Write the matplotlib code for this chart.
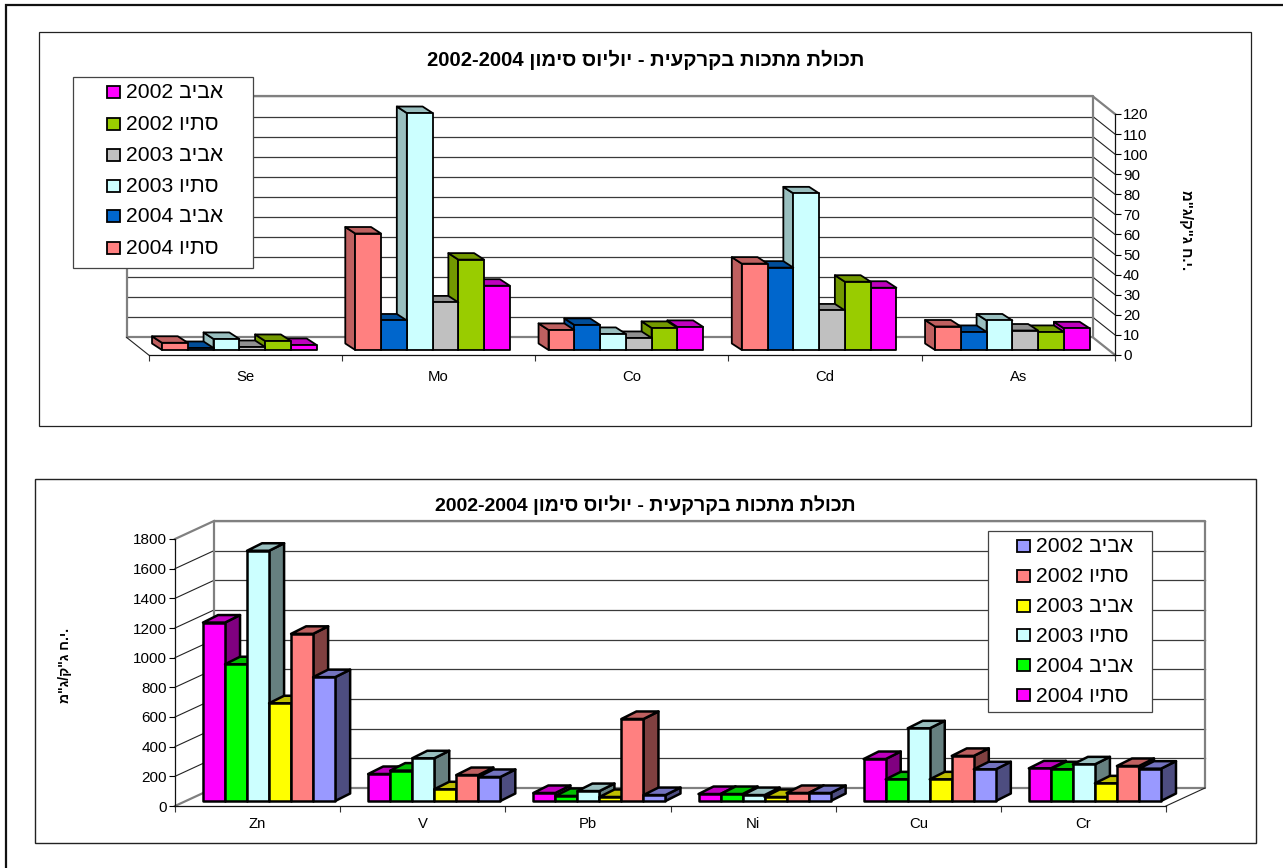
import re
import matplotlib
matplotlib.use("Agg")
import matplotlib.pyplot as plt
from matplotlib.patches import Polygon, Rectangle

plt.rcParams["font.family"] = ["Liberation Sans", "DejaVu Sans"]

W, H = 1283, 868

# ---- shared text ----
chart_title = "תכולת מתכות בקרקעית - יוליוס סימון 2002-2004"
unit_label = 'מ"ג/ק"ג ח.י.'
season_labels = ["סתיו 2004", "אביב 2004", "סתיו 2003", "אביב 2003", "סתיו 2002", "אביב 2002"]

# ---- upper chart ----
upper_categories = ["Se", "Mo", "Co", "Cd", "As"]
upper_autumn_2004 = [3.6, 58, 10, 43, 11.7]
upper_spring_2004 = [1, 14.7, 12.5, 41, 9]
upper_autumn_2003 = [5.5, 118, 8, 78, 14.7]
upper_spring_2003 = [1.5, 23.7, 6, 19.7, 9.7]
upper_autumn_2002 = [4.5, 45, 11, 34, 9]
upper_spring_2002 = [2.5, 32, 11.5, 31, 10.8]
upper_ticks = list(range(0, 121, 10))
upper_colors = ["#FF8080", "#0066CC", "#CCFFFF", "#C0C0C0", "#99CC00", "#FF00FF"]

# ---- lower chart ----
lower_categories = ["Zn", "V", "Pb", "Ni", "Cu", "Cr"]
lower_autumn_2004 = [1203, 182, 54, 47, 283, 220]
lower_spring_2004 = [922, 205, 34, 47, 146, 214]
lower_autumn_2003 = [1687, 288, 67, 40, 490, 247]
lower_spring_2003 = [659, 79, 27, 27, 146, 119]
lower_autumn_2002 = [1127, 175, 553, 54, 304, 236]
lower_spring_2002 = [835, 162, 40, 54, 214, 218]
lower_ticks = list(range(0, 1801, 200))
lower_colors = ["#FF00FF", "#00FF00", "#CCFFFF", "#FFFF00", "#FF8080", "#9999FF"]


def visual(text):
    """Left-to-right glyph order for a right-to-left string; number runs keep their order."""
    return re.sub(r"[0-9\-]+", lambda m: m.group(0)[::-1], text[::-1])


def shade(color, factor):
    rgb = matplotlib.colors.to_rgb(color)
    return tuple(c * factor for c in rgb)


fig = plt.figure(figsize=(W / 100, H / 100), dpi=100, facecolor="white")

# page-level layer: sheet border and chart frames, in pixel units
page = fig.add_axes([0, 0, 1, 1], zorder=0)
page.set_xlim(0, W)
page.set_ylim(H, 0)
page.axis("off")
page.plot([6, 6, W], [H, 5, 5], color="#111111", lw=1.6, solid_joinstyle="miter")
page.add_patch(Rectangle((38.5, 32), 1212.5, 394, fc="white", ec="#222222", lw=0.9))
page.add_patch(Rectangle((34.5, 479), 1221.5, 364, fc="white", ec="#222222", lw=1.0))

# top layer for the legends, which hide the gridlines behind them
overlay = fig.add_axes([0, 0, 1, 1], zorder=5, facecolor="none")
overlay.set_xlim(0, W)
overlay.set_ylim(H, 0)
overlay.axis("off")


def draw_legend(box, swatch_x, text_x, row_y, labels, colors):
    x0, y0, x1, y1 = box
    overlay.add_patch(Rectangle((x0, y0), x1 - x0, y1 - y0, fc="white", ec="#444444", lw=0.9))
    for y, label, color in zip(row_y, labels, colors):
        overlay.add_patch(Rectangle((swatch_x, y - 6), 13, 12, fc=color, ec="black", lw=1.3))
        overlay.text(text_x, y + 1, visual(label), fontsize=15.2, color="black",
                     ha="left", va="center")


def draw_chart(rect, categories, series, colors, ticks, wall, bar_shift, depth,
               edge_lw, side_factor, top_factor, right_to_left, axis_right, tick_size, cat_pad):
    left, right, y0, ytop = rect
    n = len(categories)
    ymax = ticks[-1]
    ax = fig.add_axes([left / W, 1 - y0 / H, (right - left) / W, (y0 - ytop) / H],
                      zorder=2, facecolor="none")
    ax.set_xlim(0, n)
    ax.set_ylim(0, ymax)
    ppx = (right - left) / n
    ppy = (y0 - ytop) / ymax

    def off(dx, dy):
        return dx / ppx, -dy / ppy

    # back wall, side wall and floor, offset from the front plane
    wx, wy = off(*wall)
    side_x = n if axis_right else 0
    far_x = 0 if axis_right else n
    wall_gray = "#808080"
    for t in ticks[1:]:
        ax.plot([wx, n + wx], [t + wy, t + wy], color="#3a3a3a", lw=0.9, clip_on=False, zorder=0.5)
        if t < ymax:
            ax.plot([side_x + wx, side_x], [t + wy, t], color="#222222", lw=0.8,
                    clip_on=False, zorder=0.5)
    ax.plot([wx, n + wx, n + wx, wx, wx], [wy, wy, ymax + wy, ymax + wy, wy],
            color=wall_gray, lw=1.6, clip_on=False, zorder=0.6)
    ax.plot([side_x + wx, side_x], [ymax + wy, ymax], color=wall_gray, lw=1.6,
            clip_on=False, zorder=0.6)
    ax.plot([side_x + wx, side_x], [wy, 0], color=wall_gray, lw=1.6, clip_on=False, zorder=0.6)
    ax.plot([far_x + wx, far_x], [wy, 0], color="#222222", lw=0.8, clip_on=False, zorder=0.6)

    # 3-D bars, painted so that nearer faces overlap the ones behind them
    m = len(series)
    slot = 0.8 / m
    sx, sy = off(*bar_shift)
    dx, dy = off(*depth)
    cat_order = range(n - 1, -1, -1) if right_to_left else range(n)
    ser_order = range(m - 1, -1, -1) if right_to_left else range(m)
    for c in cat_order:
        for s in ser_order:
            v = series[s][c]
            x0 = c + 0.1 + s * slot + sx
            x1 = x0 + slot
            b = sy
            t = v + sy
            col = colors[s]
            style = dict(ec="black", lw=edge_lw, joinstyle="round", clip_on=False)
            top_face = [(x0, t), (x1, t), (x1 + dx, t + dy), (x0 + dx, t + dy)]
            if dx < 0:
                side_face = [(x0, b), (x0, t), (x0 + dx, t + dy), (x0 + dx, b + dy)]
            else:
                side_face = [(x1, b), (x1, t), (x1 + dx, t + dy), (x1 + dx, b + dy)]
            ax.add_patch(Polygon(side_face, fc=shade(col, side_factor), **style))
            ax.add_patch(Polygon(top_face, fc=shade(col, top_factor), **style))
            ax.add_patch(Polygon([(x0, b), (x1, b), (x1, t), (x0, t)], fc=col, **style))

    # axes: value ticks on the front edge, category ticks between groups
    for name in ("top", "left", "right", "bottom"):
        ax.spines[name].set_visible(False)
    ax.spines["bottom"].set_visible(True)
    ax.spines["right" if axis_right else "left"].set_visible(True)
    for spine in ax.spines.values():
        spine.set_linewidth(0.9)
        spine.set_color("#111111")
    if axis_right:
        ax.yaxis.tick_right()
    ax.set_yticks(ticks)
    ax.set_yticklabels([str(t) for t in ticks])
    ax.tick_params(axis="y", length=4.3, width=0.8, labelsize=tick_size, pad=1.5)
    ax.set_xticks(range(n + 1))
    ax.set_xticklabels([])
    ax.set_xticks([i + 0.5 for i in range(n)], minor=True)
    ax.set_xticklabels(categories, minor=True, fontsize=tick_size - 0.3)
    ax.tick_params(axis="x", which="major", length=4.3, width=0.8, color="#333333")
    ax.tick_params(axis="x", which="minor", length=0, pad=cat_pad)
    return ax


upper_series = [upper_autumn_2004, upper_spring_2004, upper_autumn_2003,
                upper_spring_2003, upper_autumn_2002, upper_spring_2002]
lower_series = [lower_autumn_2004, lower_spring_2004, lower_autumn_2003,
                lower_spring_2003, lower_autumn_2002, lower_spring_2002]

draw_chart((148.7, 1115, 355, 114), upper_categories, upper_series, upper_colors, upper_ticks,
           wall=(-22, -17.5), bar_shift=(-6, -5), depth=(-10, -6.5), edge_lw=1.3,
           side_factor=0.75, top_factor=0.75, right_to_left=True, axis_right=True,
           tick_size=11, cat_pad=10.7)
draw_chart((175, 1166, 806, 539), lower_categories, lower_series, lower_colors, lower_ticks,
           wall=(39, -18), bar_shift=(11.5, -5), depth=(15, -7.5), edge_lw=1.8,
           side_factor=0.5, top_factor=0.75, right_to_left=False, axis_right=False,
           tick_size=11, cat_pad=7.7)

# chart titles and rotated unit labels
fig.text(646 / W, 1 - 60 / H, visual(chart_title), fontsize=14.6, fontweight="bold",
         ha="center", va="center")
fig.text(645.5 / W, 1 - 505 / H, visual(chart_title), fontsize=14, fontweight="bold",
         ha="center", va="center")
fig.text(1186 / W, 1 - 230 / H, unit_label, fontsize=10.6, fontweight="bold", rotation=270,
         ha="center", va="center")
fig.text(65 / W, 1 - 665 / H, unit_label, fontsize=10, fontweight="bold", rotation=90,
         ha="center", va="center")

# legends list the seasons oldest first
draw_legend((72.7, 76.5, 252.7, 268), 106.7, 126.5, [92, 124, 154.5, 186, 216, 248],
            season_labels[::-1], upper_colors[::-1])
draw_legend((988, 531, 1152, 712), 1017, 1036, [546, 576, 606, 635, 665, 695],
            season_labels[::-1], lower_colors[::-1])

fig.savefig("out.png", dpi=100, facecolor="white")
